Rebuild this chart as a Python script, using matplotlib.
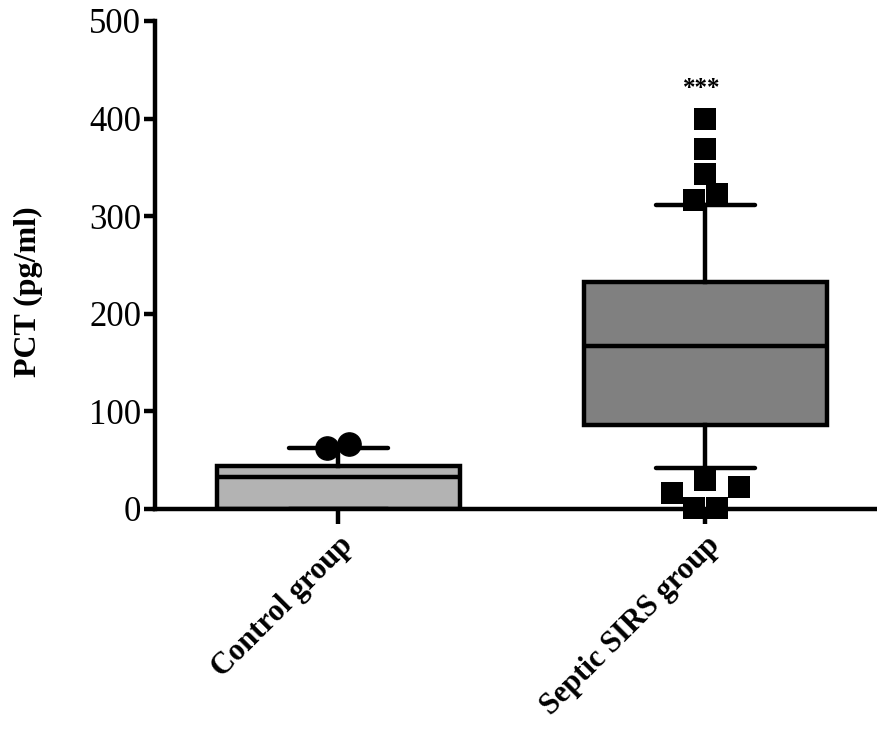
import matplotlib
matplotlib.use("Agg")
import matplotlib.pyplot as plt
from matplotlib.transforms import ScaledTranslation

plt.rcParams['font.family'] = ['Liberation Serif', 'DejaVu Serif']

# данные
groups = ["Control group", "Septic SIRS group"]
q1 = [0, 86]
medians = [33, 167]
q3 = [44, 233]
whis_lo = [0, 42]
whis_hi = [62, 311]
fliers_control = [62, 67]
fliers_septic = [400, 369, 343, 317, 323, 30, 16, 23, 1, 1]
flier_x_control = [-0.03, 0.03]
flier_x_septic = [0.0, 0.0, 0.0, -0.03, 0.03, 0.0, -0.09, 0.09, -0.03, 0.03]
box_colors = ["#b3b3b3", "#808080"]
yticks = [0, 100, 200, 300, 400, 500]

fig = plt.figure(figsize=(8.78, 7.31), dpi=100)
ax = fig.add_axes([0.1765, 0.3037, 0.8235, 0.6676])

stats = []
for i in range(len(groups)):
    stats.append({"label": groups[i], "q1": q1[i], "med": medians[i], "q3": q3[i],
                  "whislo": whis_lo[i], "whishi": whis_hi[i], "fliers": []})

lw = 3.2
bp = ax.bxp(stats, positions=[0, 1], widths=0.66, capwidths=0.27, patch_artist=True,
            boxprops=dict(linewidth=lw, edgecolor="black"),
            medianprops=dict(color="black", linewidth=lw),
            whiskerprops=dict(color="black", linewidth=lw),
            capprops=dict(color="black", linewidth=lw, solid_capstyle="round"),
            showfliers=False, zorder=2)
for patch, c in zip(bp["boxes"], box_colors):
    patch.set_facecolor(c)

# выбросы
ax.scatter([0 + x for x in flier_x_control], fliers_control, marker="o", s=280,
           color="black", zorder=4, clip_on=False)
ax.scatter([1 + x for x in flier_x_septic], fliers_septic, marker="s", s=250,
           color="black", zorder=4, clip_on=False, linewidths=0)

ax.text(0.99, 431, "***", ha="center", va="center", fontsize=18, fontweight="bold")

ax.set_xlim(-0.5, 1.47)
ax.set_ylim(0, 500)
ax.set_yticks(yticks)
ax.set_yticklabels([str(t) for t in yticks], fontsize=25)
ax.set_xticks([0, 1])
ax.set_xticklabels(groups, rotation=45, ha="right", rotation_mode="anchor",
                   fontsize=22, fontweight="bold")
shift = ScaledTranslation(-7 / 72, 0, fig.dpi_scale_trans)
for lab in ax.get_xticklabels():
    lab.set_transform(lab.get_transform() + shift)

ax.set_ylabel("PCT (pg/ml)", fontsize=23, fontweight="bold")
ax.yaxis.set_label_coords(-0.155, 0.445)

for s in ["top", "right"]:
    ax.spines[s].set_visible(False)
for s in ["left", "bottom"]:
    ax.spines[s].set_linewidth(lw)
ax.tick_params(axis="y", length=8, width=lw, pad=2)
ax.tick_params(axis="x", length=11, width=lw, pad=5)

fig.savefig("out.png", dpi=100)
plt.close()
